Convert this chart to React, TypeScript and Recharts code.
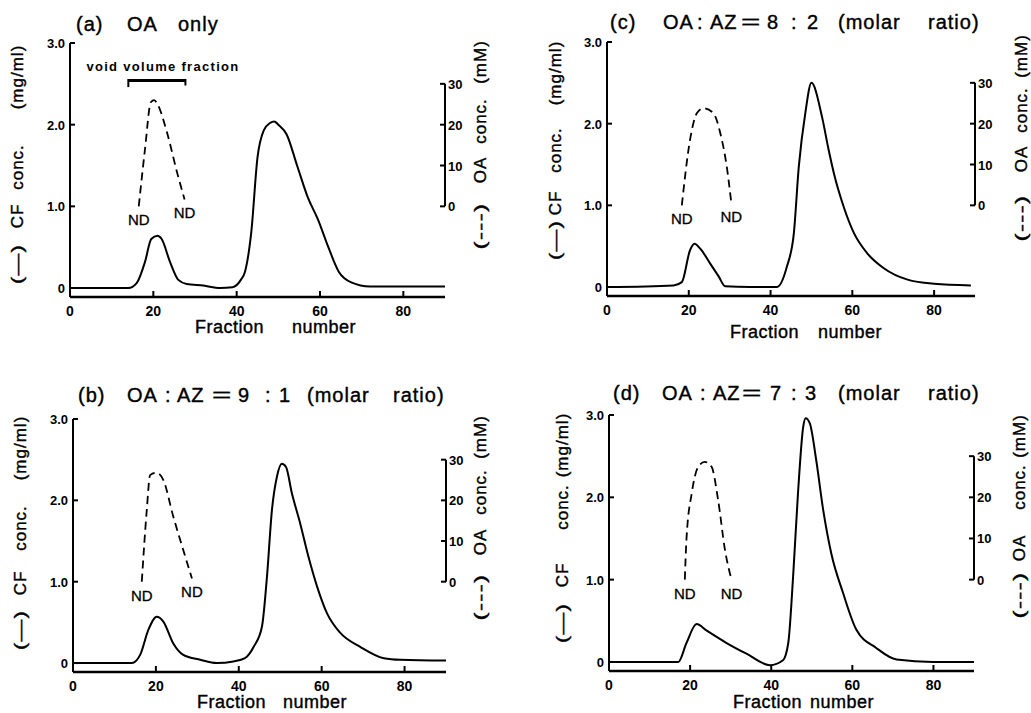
import React from "react";
import { LineChart, Line, XAxis, YAxis, ReferenceLine } from "recharts";

const FONT = '"Liberation Sans", Arial, Helvetica, sans-serif';

// shared scales
const X_TICKS = [0, 20, 40, 60, 80];
const CF_TICKS = [0, 1, 2, 3];
const OA_TICKS = [0, 10, 20, 30];
const X_DOMAIN = [0, 90];
const CF_DOMAIN = [-0.11, 3];
// OA 0 mM sits on CF 1.0, OA 30 mM on CF 2.5
const OA_DOMAIN = [-22.2, 40];

// (a) OA only
const FRAC_A = [0, 14, 16, 18, 19.5, 21, 22, 24, 26, 28, 32, 36, 39, 41, 42, 43.5, 45, 46.5, 48, 49, 50, 52, 54.5, 57, 59.5, 62, 64.5, 67.5, 72, 80, 90];
const CF_A = [0, 0, 0.06, 0.32, 0.6, 0.64, 0.6, 0.32, 0.1, 0.05, 0.03, 0, 0.01, 0.1, 0.2, 0.68, 1.6, 1.93, 2.02, 2.04, 2.0, 1.88, 1.5, 1.12, 0.84, 0.5, 0.2, 0.07, 0.02, 0.02, 0.02];
const OA_FRAC_A = [16.5, 18, 19.4, 20.2, 21, 23.3, 25.7, 27.5];
const OA_A = [0, 14, 25.5, 26, 25, 18, 8.3, 1.7];

// (b) OA : AZ = 9 : 1
const FRAC_B = [0, 14.2, 16.2, 18.2, 20.2, 21.8, 24.2, 26.6, 30.7, 34.7, 38.7, 41.5, 43.6, 45.6, 46.8, 48, 49.2, 50.4, 51.4, 52.8, 54.8, 56.8, 58.9, 61.3, 64.5, 69.3, 75, 79, 90];
const CF_B = [0, 0, 0.1, 0.41, 0.57, 0.51, 0.24, 0.1, 0.04, 0, 0.02, 0.06, 0.2, 0.45, 1.06, 1.88, 2.29, 2.45, 2.41, 2.09, 1.72, 1.31, 0.94, 0.61, 0.37, 0.2, 0.06, 0.04, 0.03];
const OA_FRAC_B = [16.6, 17.8, 18.6, 20.2, 21.8, 24.2, 26.6, 28.7];
const OA_B = [0, 17.6, 26.2, 26.8, 25, 16, 7.8, 0.8];

// (c) OA : AZ = 8 : 2
const FRAC_C = [0, 16.3, 18.3, 20.3, 21.4, 22.8, 25.2, 27.3, 28.9, 35, 41.6, 44, 45.7, 46.9, 48.5, 50, 52.6, 54.2, 55.5, 57.9, 60.4, 63.7, 67.7, 73.5, 80, 89];
const CF_C = [0, 0.02, 0.06, 0.45, 0.53, 0.47, 0.29, 0.13, 0.01, 0, 0, 0.25, 0.66, 1.47, 2.13, 2.5, 2.08, 1.68, 1.39, 0.98, 0.66, 0.41, 0.23, 0.09, 0.04, 0.02];
const OA_FRAC_C = [18.3, 20.3, 22, 23.6, 26, 27.7, 29.3, 30.4];
const OA_C = [0, 16, 22.6, 23.8, 22.6, 17.7, 9.4, 0.6];

// (d) OA : AZ = 7 : 3
const FRAC_D = [0, 17.1, 19.1, 21.6, 24.1, 29, 33.9, 39.7, 42.9, 44.2, 45.4, 46.6, 47.9, 48.5, 49.5, 51.1, 52.8, 54.8, 57.7, 61, 65.9, 70.9, 79.9, 90];
const CF_D = [0, 0, 0.23, 0.46, 0.38, 0.23, 0.1, -0.04, 0.02, 0.23, 1.04, 2.05, 2.86, 2.96, 2.9, 2.45, 1.85, 1.32, 0.84, 0.39, 0.17, 0.03, 0, 0];
const OA_FRAC_D = [18.7, 19.1, 20.4, 22, 23.6, 25.3, 26.9, 28.6, 30.2];
const OA_D = [0, 9.8, 21, 27.4, 28.6, 27.4, 19.4, 7.2, 0];

// void volume bracket in (a), in data units
const VOID_FROM = 14;
const VOID_TO = 27.7;
const VOID_LEVEL = 2.54;

const PL = 60;
const PT = 40;
const PAD_R = 68;
const PAD_B = 36;
const AXIS_W = 1; // recharts skips axes that are 0 wide

// scanned print is a bit heavier than the regular face
const INK = { fontFamily: FONT, fill: "#000", stroke: "#000", strokeWidth: 0.4 };

const zip = (fr: number[], vals: number[]) => fr.map((f, i) => ({ f, v: vals[i] }));

function Panel(props: any) {
  const { left, top, w, h, fr, cf, oaFr, oa, extra } = props;
  const right = PL + w;
  const bottom = PT + h;
  const cfData = zip(fr, cf);
  const oaData = zip(oaFr, oa);
  const last = oaData.length - 1;

  const leftTick = (p: any) => {
    const v = p.payload.value;
    return (
      <g>
        <line x1={PL} x2={PL + 5} y1={p.y} y2={p.y} stroke="#000" strokeWidth={2} />
        <text x={PL - 5} y={p.y + 5} textAnchor="end" fontSize={13} fontWeight="bold" fontFamily={FONT} fill="#000">
          {v === 0 ? "0" : v.toFixed(1)}
        </text>
      </g>
    );
  };
  const rightTick = (p: any) => (
    <g>
      <line x1={right - 5} x2={right} y1={p.y} y2={p.y} stroke="#000" strokeWidth={2} />
      <text x={right + 3} y={p.y + 5} textAnchor="start" fontSize={13} fontWeight="bold" fontFamily={FONT} fill="#000">
        {p.payload.value}
      </text>
    </g>
  );
  const bottomTick = (p: any) => (
    <g>
      <line x1={p.x} x2={p.x} y1={bottom} y2={bottom - 6} stroke="#000" strokeWidth={2} />
      <text x={p.x} y={bottom + 19} textAnchor="middle" fontSize={14} fontWeight="bold" fontFamily={FONT} fill="#000">
        {p.payload.value}
      </text>
    </g>
  );
  const ndLabel = (p: any) => {
    if (p.index !== 0 && p.index !== last) return <g key={`nd-${p.index}`} />;
    return (
      <text key={`nd-${p.index}`} x={p.x} y={p.y + 19} textAnchor="middle" fontSize={15} {...INK} strokeWidth={0.3}>
        ND
      </text>
    );
  };

  return (
    <div style={{ position: "absolute", left: left - PL, top: top - PT }}>
      <LineChart
        width={right + PAD_R}
        height={bottom + PAD_B}
        margin={{ top: PT, left: PL - AXIS_W, right: PAD_R - AXIS_W, bottom: PAD_B - AXIS_W }}
      >
        <XAxis
          type="number"
          dataKey="f"
          domain={X_DOMAIN}
          ticks={X_TICKS}
          interval={0}
          height={AXIS_W}
          allowDataOverflow
          axisLine={{ stroke: "#000", strokeWidth: 2.5 }}
          tickLine={false}
          tick={bottomTick}
        />
        <YAxis
          yAxisId="cf"
          type="number"
          domain={CF_DOMAIN}
          ticks={CF_TICKS}
          interval={0}
          width={AXIS_W}
          allowDataOverflow
          axisLine={{ stroke: "#000", strokeWidth: 2 }}
          tickLine={false}
          tick={leftTick}
        />
        <YAxis
          yAxisId="oa"
          orientation="right"
          type="number"
          domain={OA_DOMAIN}
          ticks={OA_TICKS}
          interval={0}
          width={AXIS_W}
          allowDataOverflow
          axisLine={false}
          tickLine={false}
          tick={rightTick}
        />
        <ReferenceLine
          yAxisId="oa"
          segment={[{ x: 90, y: 0 }, { x: 90, y: 30 }]}
          stroke="#000"
          strokeWidth={2}
          ifOverflow="visible"
        />
        {extra}
        <Line
          yAxisId="cf"
          data={cfData}
          dataKey="v"
          type="monotone"
          stroke="#000"
          strokeWidth={2}
          dot={false}
          isAnimationActive={false}
        />
        <Line
          yAxisId="oa"
          data={oaData}
          dataKey="v"
          type="monotone"
          stroke="#000"
          strokeWidth={1.8}
          strokeDasharray="8 5"
          dot={false}
          label={ndLabel}
          isAnimationActive={false}
        />
      </LineChart>
    </div>
  );
}

// text layout (page pixels)
const TITLES = [
  { y: 31, words: [["(a)", 76], ["OA", 127], ["only", 178]] },
  { y: 402, words: [["(b)", 78], ["OA", 127], [":", 165], ["AZ", 177], ["=", 212], ["9", 238], [":", 265], ["1", 279], ["(molar", 307], ["ratio)", 393]] },
  { y: 29, words: [["(c)", 610], ["OA", 663], [":", 697], ["AZ", 710], ["=", 741], ["8", 767], [":", 791], ["2", 807], ["(molar", 838], ["ratio)", 928]] },
  { y: 400, words: [["(d)", 613], ["OA", 662], [":", 700], ["AZ", 713], ["=", 742], ["7", 770], [":", 791], ["3", 805], ["(molar", 838], ["ratio)", 928]] },
];
const LEFT_TITLES = [
  { x: 17, words: [["(—)", 264], ["CF", 216], ["conc.", 167], ["(mg/ml)", 77]] },
  { x: 20, words: [["(—)", 630], ["CF", 583], ["conc.", 528], ["(mg/ml)", 448]] },
  { x: 555, words: [["(—)", 240], ["CF", 203], ["conc.", 150], ["(mg/ml)", 73]] },
  { x: 562, words: [["(—)", 623], ["CF", 575], ["conc.", 507], ["(mg/ml)", 445]] },
];
const RIGHT_TITLES = [
  { x: 480, words: [["(mM)", 62], ["conc.", 121], ["OA", 170], ["(---)", 226]] },
  { x: 480, words: [["(mM)", 437], ["conc.", 492], ["OA", 542], ["(---)", 597]] },
  { x: 1021, words: [["(mM)", 56], ["conc.", 110], ["OA", 159], ["(---)", 218]] },
  { x: 1019, words: [["(mM)", 436], ["conc.", 487], ["OA", 548], ["(---)", 595]] },
];
const X_TITLES = [
  { y: 333, words: [["Fraction", 195], ["number", 292]] },
  { y: 708, words: [["Fraction", 197], ["number", 283]] },
  { y: 338, words: [["Fraction", 730], ["number", 818]] },
  { y: 708, words: [["Fraction", 733], ["number", 810]] },
];
// stretched glyphs, as in the print
const STRETCH: Record<string, number> = { "=": 21, "(—)": 40, "(---)": 47 };

function Overlay() {
  return (
    <svg width={1031} height={713} style={{ position: "absolute", left: 0, top: 0, pointerEvents: "none" }}>
      {TITLES.map((t, i) =>
        t.words.map(([s, x]: any, j) => (
          <text
            key={`t${i}-${j}`}
            x={x}
            y={t.y}
            fontSize={20}
            letterSpacing={1}
            {...(STRETCH[s] ? { textLength: STRETCH[s], lengthAdjust: "spacingAndGlyphs" } : {})}
            {...INK}
          >
            {s}
          </text>
        ))
      )}
      {LEFT_TITLES.concat(RIGHT_TITLES).map((t, i) =>
        t.words.map(([s, y]: any, j) => (
          <text
            key={`v${i}-${j}`}
            transform={`translate(${t.x},${y}) rotate(-90)`}
            textAnchor="middle"
            dominantBaseline="central"
            fontSize={17}
            letterSpacing={1}
            {...(STRETCH[s] ? { textLength: STRETCH[s], lengthAdjust: "spacingAndGlyphs" } : {})}
            {...INK}
          >
            {s}
          </text>
        ))
      )}
      {X_TITLES.map((t, i) =>
        t.words.map(([s, x]: any, j) => (
          <text key={`x${i}-${j}`} x={x} y={t.y} fontSize={18} letterSpacing={0.5} {...INK}>
            {s}
          </text>
        ))
      )}
      <text x={163} y={71} textAnchor="middle" fontSize={13} fontWeight="bold" letterSpacing={1.3} fontFamily={FONT} fill="#000">
        void volume fraction
      </text>
    </svg>
  );
}

const voidBracket = [
  <ReferenceLine
    key="void-bar"
    yAxisId="cf"
    segment={[{ x: VOID_FROM, y: VOID_LEVEL }, { x: VOID_TO, y: VOID_LEVEL }]}
    stroke="#000"
    strokeWidth={3}
  />,
  <ReferenceLine
    key="void-l"
    yAxisId="cf"
    segment={[{ x: VOID_FROM, y: VOID_LEVEL + 0.02 }, { x: VOID_FROM, y: VOID_LEVEL - 0.08 }]}
    stroke="#000"
    strokeWidth={2}
  />,
  <ReferenceLine
    key="void-r"
    yAxisId="cf"
    segment={[{ x: VOID_TO, y: VOID_LEVEL + 0.02 }, { x: VOID_TO, y: VOID_LEVEL - 0.06 }]}
    stroke="#000"
    strokeWidth={2}
  />,
];

export default function App() {
  return (
    <div style={{ position: "absolute", left: 0, top: 0, width: 1031, height: 713, background: "#fff", overflow: "hidden" }}>
      <Panel left={70} top={43} w={375} h={254} fr={FRAC_A} cf={CF_A} oaFr={OA_FRAC_A} oa={OA_A} extra={voidBracket} />
      <Panel left={73} top={419} w={373} h={253} fr={FRAC_B} cf={CF_B} oaFr={OA_FRAC_B} oa={OA_B} />
      <Panel left={607} top={42} w={368} h={254} fr={FRAC_C} cf={CF_C} oaFr={OA_FRAC_C} oa={OA_C} />
      <Panel left={609} top={415} w={365} h={256} fr={FRAC_D} cf={CF_D} oaFr={OA_FRAC_D} oa={OA_D} />
      <Overlay />
    </div>
  );
}
